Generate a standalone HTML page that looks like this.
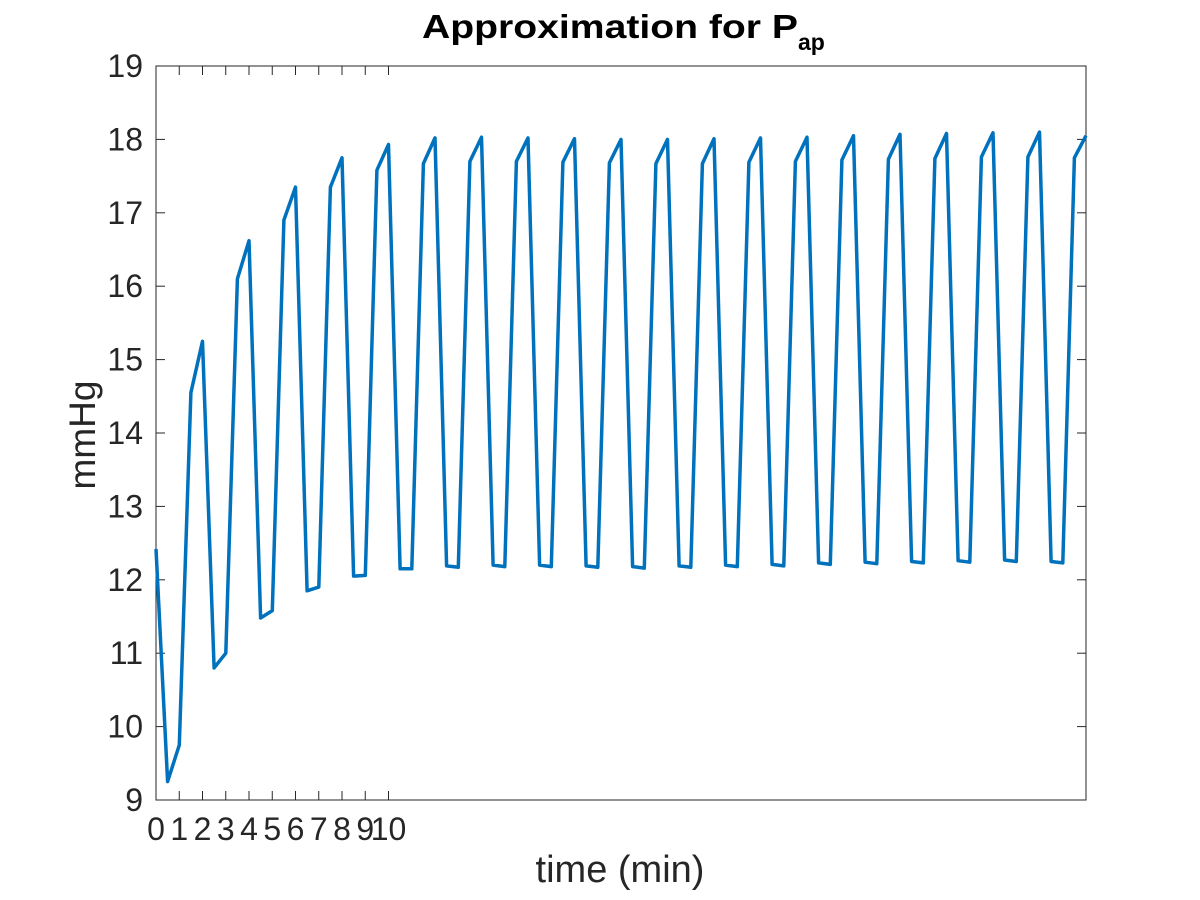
<!DOCTYPE html>
<html><head><meta charset="utf-8"><style>
body{margin:0;background:#fff;}
svg{display:block;font-family:"Liberation Sans",sans-serif;}
</style></head><body>
<svg id="chart" width="1200" height="900">
<rect x="0" y="0" width="1200" height="900" fill="#fff"/>
<text x="422" y="38" font-size="33" font-weight="bold" fill="#000" textLength="376" lengthAdjust="spacingAndGlyphs">Approximation for P</text>
<text x="798" y="50" font-size="23" font-weight="bold" fill="#000">ap</text>
<text transform="translate(95,435) rotate(-90)" text-anchor="middle" font-size="37" fill="#262626">mmHg</text>
<text x="620" y="882" text-anchor="middle" font-size="38" fill="#262626">time (min)</text>
<g id="ticks"></g>
<rect x="156" y="66" width="930" height="734" fill="none" stroke="#262626" stroke-width="1"/>
<path id="line" fill="none" stroke="#0072BD" stroke-width="3.5" stroke-linejoin="round"/>
</svg>
<script>
const xTickLabels = [0,1,2,3,4,5,6,7,8,9,10];
const yTickLabels = [9,10,11,12,13,14,15,16,17,18,19];
const timeStep = 0.5;
const papValues = [12.42,
9.25,9.75,14.55,15.25,
10.8,11.0,16.1,16.62,
11.48,11.58,16.9,17.35,
11.85,11.9,17.35,17.75,
12.05,12.06,17.58,17.93,
12.15,12.15,17.67,18.02,
12.19,12.17,17.7,18.03,
12.2,12.18,17.7,18.02,
12.2,12.18,17.69,18.01,
12.19,12.17,17.68,18.0,
12.18,12.16,17.67,18.0,
12.19,12.17,17.67,18.01,
12.2,12.18,17.69,18.02,
12.21,12.19,17.7,18.03,
12.23,12.21,17.72,18.05,
12.24,12.22,17.73,18.07,
12.25,12.23,17.74,18.08,
12.26,12.24,17.76,18.09,
12.27,12.25,17.76,18.1,
12.25,12.23,17.75,18.05];
const L=156,R=1086,T=66,B=800,xMin=0,xMax=40,yMin=9,yMax=19;
const sx=v=>L+(v-xMin)/(xMax-xMin)*(R-L);
const sy=v=>B-(v-yMin)/(yMax-yMin)*(B-T);
const ns="http://www.w3.org/2000/svg";
const g=document.getElementById('ticks');
function mk(tag,attrs){const e=document.createElementNS(ns,tag);for(const k in attrs)e.setAttribute(k,attrs[k]);g.appendChild(e);return e;}
xTickLabels.forEach(v=>{
  const x=sx(v);
  const t1=mk('line',{x1:x,x2:x,y1:B,y2:B-9,stroke:'#262626'});
  
  
  const t2=mk('line',{x1:x,x2:x,y1:T,y2:T+9,stroke:'#262626'});
  
  
  const tx=mk('text',{x:x,y:840,'text-anchor':'middle','font-size':'32',fill:'#262626'});
  tx.textContent=v;
  
  
});
yTickLabels.forEach(v=>{
  const y=sy(v);
  const t1=mk('line',{x1:L,x2:L+9,y1:y,y2:y,stroke:'#262626'});
  
  
  const t2=mk('line',{x1:R,x2:R-9,y1:y,y2:y,stroke:'#262626'});
  
  
  const tx=mk('text',{x:143,y:y+11,'text-anchor':'end','font-size':'32',fill:'#262626'});
  tx.textContent=v;
  
  
});
document.getElementById('line').setAttribute('d',papValues.map((v,i)=>(i?'L':'M')+sx(i*timeStep).toFixed(1)+','+sy(v).toFixed(1)).join(''));
</script>
</body></html>
